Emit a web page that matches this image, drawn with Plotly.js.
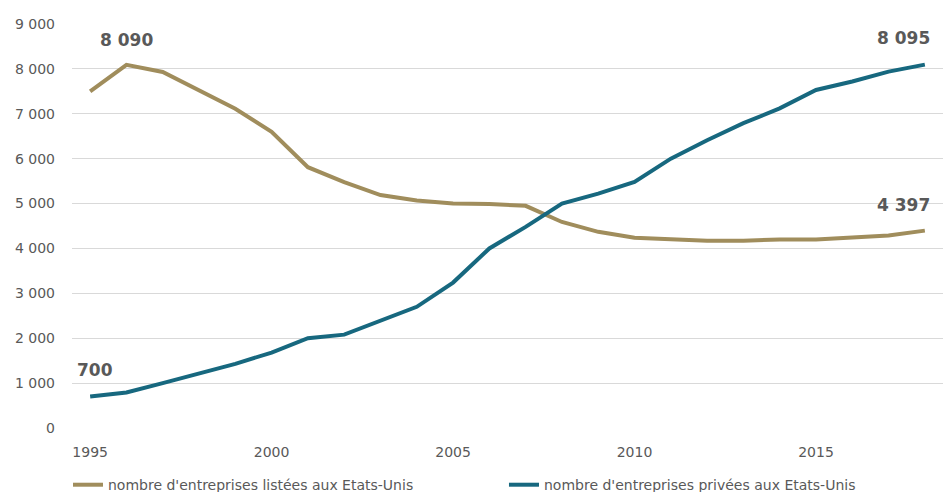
<!DOCTYPE html>
<html>
<head>
<meta charset="utf-8">
<script src="https://cdn.plot.ly/plotly-3.0.1.min.js"></script>
<style>html,body{margin:0;padding:0;background:#fff;}#chart{width:952px;height:492px;}</style>
</head>
<body>
<div id="chart"></div>
<script>
const years = [1995,1996,1997,1998,1999,2000,2001,2002,2003,2004,2005,2006,2007,2008,2009,2010,2011,2012,2013,2014,2015,2016,2017,2018];
const listees = [7500,8090,7930,7520,7110,6600,5810,5480,5190,5070,5000,4990,4950,4590,4370,4240,4200,4170,4170,4200,4200,4240,4290,4397];
const privees = [700,790,1000,1220,1430,1680,2000,2080,2400,2700,3240,4000,4480,5000,5220,5480,6000,6410,6790,7120,7530,7720,7940,8095];
const seriesNames = ["nombre d'entreprises listées aux Etats-Unis", "nombre d'entreprises privées aux Etats-Unis"];
const yTicks = [0,1000,2000,3000,4000,5000,6000,7000,8000,9000];
const xTicks = [1995,2000,2005,2010,2015];

const gold = '#a08d5c';
const teal = '#17687f';
const grey = '#595959';
const fontFam = '"DejaVu Sans", sans-serif';
const fmt = v => String(v).replace(/\B(?=(\d{3})+(?!\d))/g, ' ');

const traces = [
  {x: years, y: listees, type: 'scatter', mode: 'lines', name: seriesNames[0],
   line: {color: gold, width: 4, shape: 'linear'}},
  {x: years, y: privees, type: 'scatter', mode: 'lines', name: seriesNames[1],
   line: {color: teal, width: 4, shape: 'linear'}}
];

const iMax = listees.indexOf(Math.max(...listees));
const last = years.length - 1;
const annFont = {family: fontFam, size: 17, color: grey};
const annotations = [
  {x: years[iMax], y: listees[iMax], text: '<b>' + fmt(listees[iMax]) + '</b>', showarrow: false, yshift: 25, font: annFont},
  {x: years[0], y: privees[0], text: '<b>' + fmt(privees[0]) + '</b>', showarrow: false, xshift: 5, yshift: 27, font: annFont},
  {x: years[last], y: privees[last], text: '<b>' + fmt(privees[last]) + '</b>', showarrow: false, xshift: -21, yshift: 27, font: annFont},
  {x: years[last], y: listees[last], text: '<b>' + fmt(listees[last]) + '</b>', showarrow: false, xshift: -21, yshift: 26, font: annFont}
];

const layout = {
  width: 952, height: 492,
  margin: {l: 72, r: 9, t: 24, b: 64},
  paper_bgcolor: '#ffffff', plot_bgcolor: '#ffffff',
  font: {family: fontFam, size: 14, color: grey},
  xaxis: {
    range: [1994.5, 2018.5], tickmode: 'array', tickvals: xTicks, ticktext: xTicks.map(String),
    showgrid: false, zeroline: false, showline: false, ticks: '', ticklabelstandoff: 14,
    tickfont: {family: fontFam, size: 14, color: grey}, fixedrange: true
  },
  yaxis: {
    range: [0, 9000], tickmode: 'array', tickvals: yTicks, ticktext: yTicks.map(fmt),
    showgrid: true, gridcolor: '#d9d9d9', gridwidth: 1, zeroline: false, showline: false,
    ticks: '', ticklabelstandoff: 16, tickfont: {family: fontFam, size: 14, color: grey}, fixedrange: true
  },
  showlegend: true,
  legend: {
    orientation: 'h', xref: 'container', x: 0.0714, xanchor: 'left', yref: 'container', y: 0.014, yanchor: 'middle',
    font: {family: fontFam, size: 14, color: grey}, entrywidth: 391, entrywidthmode: 'pixels',
    itemwidth: 30, bgcolor: 'rgba(0,0,0,0)', traceorder: 'normal'
  },
  annotations: annotations
};

Plotly.newPlot('chart', traces, layout, {displayModeBar: false, staticPlot: true});
</script>
</body>
</html>
